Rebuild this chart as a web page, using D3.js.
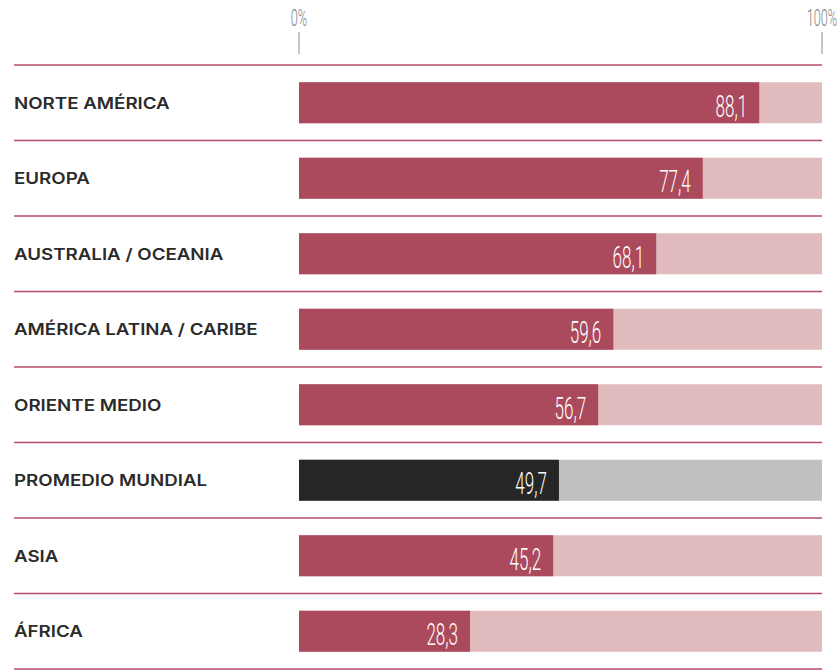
<!DOCTYPE html>
<html>
<head>
<meta charset="utf-8">
<script src="https://cdn.jsdelivr.net/npm/d3@7"></script>
<style>
  body { margin: 0; background: #fff; }
</style>
</head>
<body>
<script>
const regions = ['NORTE AMÉRICA', 'EUROPA', 'AUSTRALIA / OCEANIA', 'AMÉRICA LATINA / CARIBE',
                 'ORIENTE MEDIO', 'PROMEDIO MUNDIAL', 'ASIA', 'ÁFRICA'];
// printed values
const valueLabels = ['88,1', '77,4', '68,1', '59,6', '56,7', '49,7', '45,2', '28,3'];
// bar lengths as drawn in the picture (% of the full track)
const barShares = [88.0, 77.2, 68.3, 60.1, 57.2, 49.7, 48.6, 32.7];
const highlight = 'PROMEDIO MUNDIAL';
const axisTicks = [0, 100];

const width = 837;
const height = 671;
const barHeight = 41;

const data = regions.map((r, i) => ({region: r, share: barShares[i], label: valueLabels[i]}));

const svg = d3.select('body').append('svg').attr('width', width).attr('height', height);

const x = d3.scaleLinear().domain([0, 100]).range([299, 822]);
const y = d3.scaleBand().domain(regions).range([65, 669]);

// top axis: the two labels with small ticks
const ticks = svg.append('g');
ticks.selectAll('line').data(axisTicks).join('line')
    .attr('x1', d => x(d)).attr('x2', d => x(d))
    .attr('y1', 32).attr('y2', 54)
    .attr('stroke', '#8c8c8c').attr('stroke-width', 1);
ticks.selectAll('text').data(axisTicks).join('text')
    .attr('transform', d => `translate(${x(d)}, 26) scale(0.55, 1)`)
    .attr('text-anchor', 'middle')
    .attr('font-family', 'Roboto').attr('font-weight', 300)
    .attr('font-size', 23).attr('fill', '#858585')
    .text(d => d + '%');

// separator lines
const bounds = regions.map(r => y(r)).concat([y.range()[1]]);
svg.selectAll('line.sep').data(bounds).join('line')
    .attr('class', 'sep')
    .attr('x1', 14).attr('x2', 822)
    .attr('y1', d => d).attr('y2', d => d)
    .attr('stroke', '#b24d63').attr('stroke-width', 1.5);

const rows = svg.selectAll('g.row').data(data).join('g')
    .attr('class', 'row')
    .attr('transform', d => `translate(0, ${y(d.region) + (y.bandwidth() - barHeight) / 2})`);

// background bar (100%)
rows.append('rect')
    .attr('x', x(0)).attr('width', x(100) - x(0))
    .attr('height', barHeight)
    .attr('fill', d => d.region === highlight ? '#c0c0c2' : '#e1bbbd');

// value bar
rows.append('rect')
    .attr('x', x(0)).attr('width', d => x(d.share) - x(0))
    .attr('height', barHeight)
    .attr('fill', d => d.region === highlight ? '#262626' : '#ab4a5c');

// category labels (wide geometric look)
rows.append('text')
    .attr('transform', `translate(14, ${barHeight / 2 + 6}) scale(1.17, 1)`)
    .attr('font-family', 'Inter').attr('font-weight', 600)
    .attr('font-size', 16).attr('fill', '#2b2b2b')
    .text(d => d.region);

// value labels, condensed
rows.append('text')
    .attr('transform', d => `translate(${x(d.share) - 12}, ${barHeight / 2 + 14}) scale(0.55, 1)`)
    .attr('text-anchor', 'end')
    .attr('font-family', 'Roboto').attr('font-weight', 300)
    .attr('font-size', 31).attr('fill', '#fff')
    .text(d => d.label);
</script>
</body>
</html>
